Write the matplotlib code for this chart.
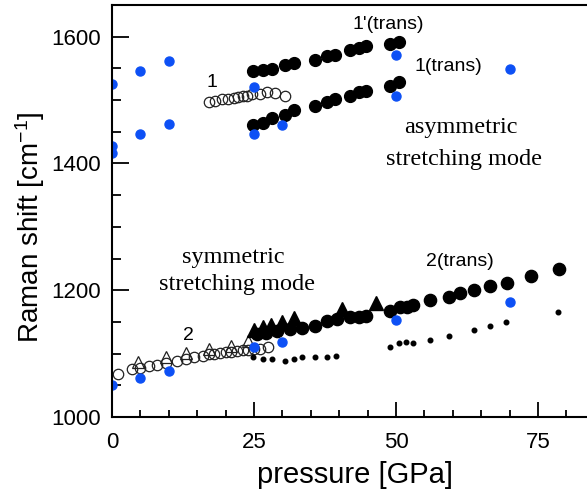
import matplotlib
matplotlib.use("Agg")
import matplotlib.pyplot as plt
from matplotlib.ticker import MultipleLocator

plt.rcParams['font.family'] = ['Liberation Sans', 'DejaVu Sans']
plt.rcParams['mathtext.default'] = 'regular'

# ---- data ----
# blue reference points
blue_p = [0, 0, 0, 0, 5, 5, 5, 10, 10, 10, 25, 25, 25, 30, 30, 50, 50, 50, 70, 70]
blue_r = [1525, 1427, 1417, 1051, 1546, 1447, 1062, 1561, 1463, 1073,
          1520, 1447, 1110, 1460, 1118, 1571, 1506, 1153, 1549, 1182]

# 1'(trans) upper filled circles
up_p = [24.9, 26.6, 28.1, 30.5, 32.0, 35.8, 37.8, 39.3, 41.9, 43.4, 44.7, 48.9, 50.6]
up_r = [1546, 1548, 1549, 1555, 1559, 1563, 1569, 1571, 1579, 1582, 1585, 1588, 1591]

# 1(trans) lower filled circles
lo_p = [24.9, 26.6, 28.1, 30.5, 32.0, 35.8, 37.8, 39.3, 41.9, 43.4, 44.7, 48.9, 50.6]
lo_r = [1461, 1464, 1472, 1477, 1485, 1490, 1497, 1502, 1506, 1512, 1514, 1522, 1528]

# mode 1 open circles
m1_p = [17.0, 18.1, 19.3, 20.5, 21.4, 22.2, 23.1, 23.7, 24.6, 26.1, 27.3, 28.7, 30.5]
m1_r = [1497, 1498, 1501, 1502, 1504, 1505, 1506, 1507, 1509, 1510, 1512, 1511, 1507]

# mode 2 open circles
m2_p = [1.1, 3.5, 5.0, 6.5, 8.0, 9.5, 11.5, 13.0, 14.5, 16.0, 17.0, 18.0, 19.0,
        20.0, 21.0, 22.0, 23.0, 24.0, 25.0, 26.0, 27.5]
m2_r = [1068, 1076, 1078, 1080, 1082, 1085, 1089, 1092, 1095, 1097, 1099, 1100,
        1101, 1102, 1103, 1104, 1105, 1106, 1107, 1108, 1110]

# mode 2 open triangles
m2t_p = [4.5, 9.5, 13.0, 17.0, 21.0, 24.0]
m2t_r = [1086, 1094, 1101, 1108, 1112, 1120]

# filled triangles
ft_p = [25.0, 26.5, 28.0, 30.0, 32.0, 40.5, 46.5]
ft_r = [1138, 1142, 1145, 1150, 1156, 1170, 1180]

# 2(trans) filled circles
t2_p = [25.5, 27.2, 29.0, 31.3, 33.4, 35.7, 37.8, 39.6, 41.9, 43.4, 44.8, 48.9,
        50.7, 52.0, 53.0, 56.0, 59.3, 61.2, 63.8, 66.5, 69.5, 73.8, 78.7]
t2_r = [1131, 1133, 1136, 1139, 1141, 1144, 1152, 1155, 1157, 1158, 1160, 1168,
        1173, 1174, 1176, 1184, 1190, 1196, 1201, 1206, 1212, 1222, 1233]

# small dots
sd_p = [24.9, 26.6, 28.1, 30.5, 32.0, 33.4, 35.7, 37.8, 39.4, 48.9, 50.6, 51.8,
        53.0, 56.0, 59.4, 63.7, 66.5, 69.4, 78.6]
sd_r = [1095, 1091, 1091, 1088, 1092, 1095, 1094, 1094, 1096, 1110, 1117, 1118,
        1117, 1122, 1128, 1137, 1143, 1150, 1165]

xticks = [0, 25, 50, 75]
yticks = [1000, 1200, 1400, 1600]

# ---- figure ----
W, H = 587, 492
fig = plt.figure(figsize=(W / 100, H / 100), dpi=100)
xmax = 85
px_per = 5.68
ax = fig.add_axes([112 / W, (H - 417) / H, xmax * px_per / W, 412 / H])

blue = '#0d50f5'
ax.plot(m2_p, m2_r, 'o', ms=7.5, mfc='none', mec='#222222', mew=0.9, ls='none')
ax.plot(m2t_p, m2t_r, '^', ms=8, mfc='none', mec='#222222', mew=0.9, ls='none')
ax.plot(m1_p, m1_r, 'o', ms=7.5, mfc='none', mec='#222222', mew=0.9, ls='none')
ax.plot(sd_p, sd_r, 'o', ms=3.3, color='black', ls='none')
ax.plot(up_p, up_r, 'o', ms=8.5, color='black', ls='none')
ax.plot(lo_p, lo_r, 'o', ms=8.5, color='black', ls='none')
ax.plot(t2_p, t2_r, 'o', ms=8.8, color='black', ls='none')
ax.plot(ft_p, ft_r, '^', ms=9.5, color='black', ls='none')
ax.plot(blue_p, blue_r, 'o', ms=6.5, color=blue, ls='none')

ax.set_xlim(0, xmax)
ax.set_ylim(1000, 1650)
ax.set_xticks(xticks)
ax.set_yticks(yticks)
ax.xaxis.set_minor_locator(MultipleLocator(5))
ax.yaxis.set_minor_locator(MultipleLocator(50))
ax.tick_params(which='major', axis='x', direction='in', length=10.5, width=1.3,
               labelsize=16, pad=11)
ax.tick_params(which='minor', axis='x', direction='in', length=5, width=1.3)
ax.tick_params(which='major', axis='y', direction='in', length=12, width=1.3,
               labelsize=16, pad=8)
ax.tick_params(which='minor', axis='y', direction='in', length=6.5, width=1.3)
for s in ax.spines.values():
    s.set_linewidth(1.5)
ax.spines['right'].set_visible(False)

ax.set_xlabel('pressure [GPa]', fontsize=21)
ax.xaxis.set_label_coords(0.503, -0.108)
ax.set_ylabel('Raman shift [cm$^{-1}$]', fontsize=20)
ax.yaxis.set_label_coords(-0.134, 0.46)

sans = 14
ax.text(48.6, 1620, "1'(trans)", fontsize=sans, ha='center', va='center')
ax.text(59.2, 1553, "1(trans)", fontsize=sans, ha='center', va='center')
ax.text(17.6, 1528, "1", fontsize=sans, ha='center', va='center')
ax.text(13.4, 1128, "2", fontsize=sans, ha='center', va='center')
ax.text(61.3, 1245, "2(trans)", fontsize=sans, ha='center', va='center')
serif = dict(family='Liberation Serif', fontsize=17.5, ha='center', va='center')
ax.text(61.5, 1456, "asymmetric", **serif)
ax.text(62.0, 1407, "stretching mode", **serif)
ax.text(21.3, 1252, "symmetric", **serif)
ax.text(22.0, 1209, "stretching mode", **serif)

fig.savefig('out.png', dpi=100)
